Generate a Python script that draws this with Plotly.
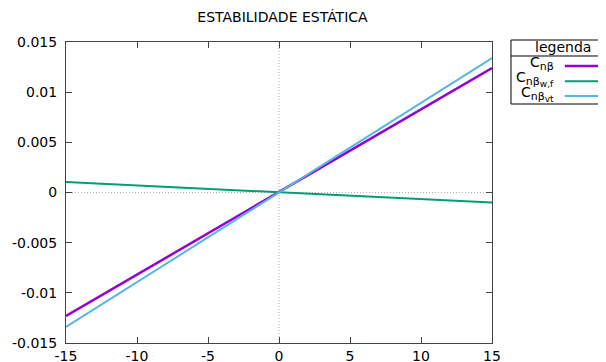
import plotly.graph_objects as go

# Data
x_vals = [-15, 15]
cn_beta = [-0.0123, 0.0124]
cn_beta_wf = [0.00105, -0.00100]
cn_beta_vt = [-0.0134, 0.0134]
series_names = [
    "C<sub><span style='font-size:11px'>nβ</span></sub>",
    "C<sub><span style='font-size:11px'>nβ</span><sub><span style='font-size:9px'>w,f</span></sub></sub>",
    "C<sub><span style='font-size:11px'>nβ</span><sub><span style='font-size:9px'>vt</span></sub></sub>",
]
series_colors = ["#9400D3", "#009E73", "#56B4E9"]
series_widths = [2.5, 2, 2]
x_ticks = [-15, -10, -5, 0, 5, 10, 15]
x_tick_text = ["-15", "-10", "-5", "0", "5", "10", "15"]
y_ticks = [-0.015, -0.01, -0.005, 0, 0.005, 0.01, 0.015]
y_tick_text = ["-0.015", "-0.01", "-0.005", "0", "0.005", "0.01", "0.015"]

fig = go.Figure()
for ys, name, col, w in zip([cn_beta, cn_beta_wf, cn_beta_vt], series_names, series_colors, series_widths):
    fig.add_trace(go.Scatter(x=x_vals, y=ys, mode="lines", name=name,
                             line=dict(color=col, width=w), showlegend=False))

font_family = "DejaVu Sans"
# zero axes (dotted)
fig.add_shape(type="line", xref="x", yref="paper", x0=0, x1=0, y0=0, y1=1,
              line=dict(color="#b0b0b0", width=1, dash="1px,2px"), layer="below")
fig.add_shape(type="line", xref="paper", yref="y", x0=0, x1=1, y0=0, y1=0,
              line=dict(color="#b0b0b0", width=1, dash="1px,2px"), layer="below")

# custom legend box
fig.add_shape(type="rect", xref="paper", yref="paper", x0=1.0446, x1=1.45, y0=0.794, y1=1.0066,
              line=dict(color="black", width=1), fillcolor="white")
fig.add_shape(type="line", xref="paper", yref="paper", x0=1.0446, x1=1.45, y0=0.9535, y1=0.9535,
              line=dict(color="black", width=1))
fig.add_annotation(xref="paper", yref="paper", x=1.167, y=0.982, text="legenda", showarrow=False,
                   font=dict(family=font_family, size=14, color="black"), xanchor="center", yanchor="middle")
entry_ys = [0.920, 0.870, 0.8206]
for name, col, w, ey in zip(series_names, series_colors, series_widths, entry_ys):
    fig.add_shape(type="line", xref="paper", yref="paper", x0=1.171, x1=1.45, y0=ey, y1=ey,
                  line=dict(color=col, width=w))
    fig.add_annotation(xref="paper", yref="paper", x=1.150, y=ey + 0.007, text=name, showarrow=False,
                       font=dict(family=font_family, size=14, color="black"), xanchor="right", yanchor="middle")

axis_common = dict(showline=True, linecolor="#444444", linewidth=1, mirror="ticks", ticks="inside",
                   ticklen=6, tickcolor="#444444", showgrid=False, zeroline=False, automargin=False,
                   tickfont=dict(family=font_family, size=14, color="black"))
fig.update_xaxes(range=[-15, 15], tickvals=x_ticks, ticktext=x_tick_text, **axis_common)
fig.update_yaxes(range=[-0.015, 0.015], tickvals=y_ticks, ticktext=y_tick_text,
                 ticklabelstandoff=5, **axis_common)

fig.update_layout(
    width=606, height=362,
    margin=dict(l=58, r=122, t=34, b=27),
    paper_bgcolor="white", plot_bgcolor="white",
    title=dict(text="ESTABILIDADE ESTÁTICA", x=274.5 / 606, xref="container", xanchor="center",
               y=1 - 9.5 / 362, yref="container", yanchor="middle",
               font=dict(family=font_family, size=14, color="black")),
)
fig.write_html("out.html")
